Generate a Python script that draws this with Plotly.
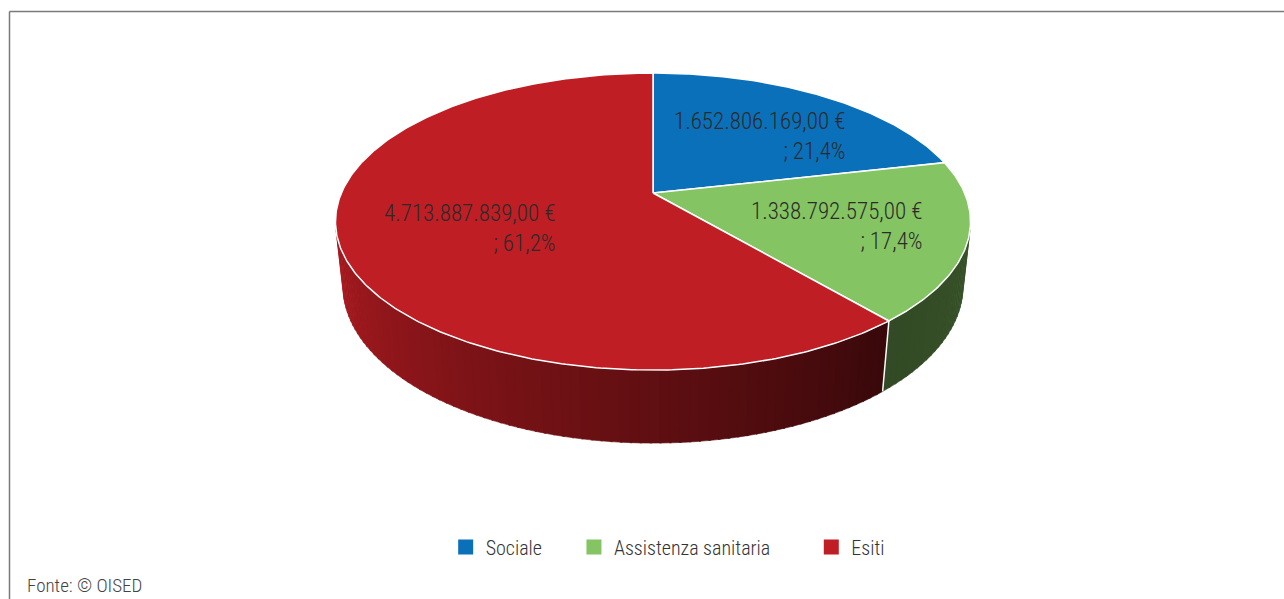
import math
import plotly.graph_objects as go

# ---------------- data ----------------
categories = ["Sociale", "Assistenza sanitaria", "Esiti"]
values = [1652806169.00, 1338792575.00, 4713887839.00]
colors = ["#0A70BA", "#85C462", "#BE1E24"]
side_shade = [(0.40, 0.40), (0.38, 0.42), (0.90, 0.30)]  # (left, right) brightness of side wall
source_text = "Fonte: © OISED"

FONT = "Roboto Condensed, Liberation Sans Narrow, Arial Narrow, sans-serif"
PADS = ["\u00a0" * 6, "\u00a0" * 8, ""]

W, H = 1284, 599
# ---------------- 3D pie projection model ----------------
CX, CY = 653.0, 193.0        # projected pie centre (pixels)
S = 311.6                    # radius scale (pixels)
ELEV = math.asin(0.459)      # view elevation
SIN_E, COS_E = math.sin(ELEV), math.cos(ELEV)
DIST = 4.62                  # camera distance (radius units)
DEPTH = 0.234                # pie thickness (radius units)


def proj(theta_deg, r=1.0, z=0.0):
    t = math.radians(theta_deg)
    x, y = r * math.cos(t), r * math.sin(t)
    X = x
    Y = y * SIN_E + z * COS_E
    Zc = -y * COS_E + z * SIN_E
    s = DIST / (DIST - Zc)
    return CX + S * X * s, CY - S * Y * s


def arc(a0, a1, r=1.0, z=0.0, n=None):
    if n is None:
        n = max(4, int(abs(a1 - a0) * 1.5))
    pts = [proj(a0 + (a1 - a0) * i / n, r, z) for i in range(n + 1)]
    return [p[0] for p in pts], [p[1] for p in pts]


def shade(hexcol, f):
    h = hexcol.lstrip("#")
    r, g, b = (int(h[i:i + 2], 16) for i in (0, 2, 4))
    return "rgb(%d,%d,%d)" % (min(255, r * f), min(255, g * f), min(255, b * f))


total = sum(values)
fracs = [v / total for v in values]
starts, ends = [], []
cum = 0.0
for f in fracs:
    starts.append(90 - 360 * cum)
    cum += f
    ends.append(90 - 360 * cum)

# visible side-wall range (front)
lim = math.degrees(math.asin(1.0 / (DIST * COS_E)))
VIS_L, VIS_R = -180 + lim, -lim

fig = go.Figure()

# ---- side walls (gradient strips) ----
seams = []
for i in range(len(values)):
    a_hi, a_lo = starts[i], ends[i]
    lo, hi = max(a_lo, VIS_L), min(a_hi, VIS_R)
    if hi <= lo:
        continue
    if a_lo > VIS_L:
        seams.append(a_lo)
    nstrip = max(6, int((hi - lo) / 1.5))
    fl, fr = side_shade[i]
    for k in range(nstrip):
        b0 = lo + (hi - lo) * k / nstrip
        b1 = lo + (hi - lo) * (k + 1) / nstrip + (0.3 if k < nstrip - 1 else 0)
        t = (k + 0.5) / nstrip
        fac = fl + (fr - fl) * t
        col = shade(colors[i], fac)
        xt, yt = arc(b0, b1, 1.0, 0.0, 3)
        xb, yb = arc(b1, b0, 1.0, -DEPTH, 3)
        fig.add_trace(go.Scatter(x=xt + xb + [xt[0]], y=yt + yb + [yt[0]], mode="lines",
                                 fill="toself", fillcolor=col, line=dict(color=col, width=0.6),
                                 hoverinfo="skip", showlegend=False))

for a in seams:
    x0, y0 = proj(a, 1.0, 0.0)
    x1, y1 = proj(a, 1.0, -DEPTH)
    fig.add_trace(go.Scatter(x=[x0, x1], y=[y0, y1], mode="lines",
                             line=dict(color="white", width=1.5),
                             hoverinfo="skip", showlegend=False))

# ---- top faces ----
for i in range(len(values)):
    xa, ya = arc(starts[i], ends[i])
    xs = [CX] + xa + [CX]
    ys = [CY] + ya + [CY]
    fig.add_trace(go.Scatter(x=xs, y=ys, mode="lines", fill="toself",
                             fillcolor=colors[i], line=dict(color="white", width=1.5),
                             hoverinfo="skip", showlegend=False))

# ---- data labels ----
def fmt_it(v):
    s = f"{v:,.2f}"
    return s.replace(",", "X").replace(".", ",").replace("X", ".")

for i in range(len(values)):
    mid = (starts[i] + ends[i]) / 2
    lx, ly = proj(mid, 0.6, 0.0)
    pct = f"{fracs[i] * 100:.1f}".replace(".", ",")
    fig.add_annotation(x=lx, y=ly, xref="x", yref="y", yshift=-5,
                       text=f"{fmt_it(values[i])} €<br>; {pct}%",
                       showarrow=False, align="right", xanchor="center", yanchor="middle",
                       font=dict(family=FONT, size=23, color="#2b2b2b", weight=300))

# ---- legend entries ----
for i in range(len(values)):
    fig.add_trace(go.Scatter(x=[None], y=[None], mode="markers", name=categories[i] + PADS[i],
                             marker=dict(symbol="square", size=15, color=colors[i]),
                             hoverinfo="skip"))

fig.add_annotation(x=25, y=585, xref="x", yref="y", text=source_text, showarrow=False,
                   xanchor="left", yanchor="middle",
                   font=dict(family=FONT, size=19, color="#444444", weight=300))

# border (top and left)
fig.add_shape(type="line", xref="x", yref="y", x0=9.5, y0=H + 5, x1=9.5, y1=11.5,
              line=dict(color="#7a7a7a", width=1.5))
fig.add_shape(type="line", xref="x", yref="y", x0=9.5, y0=11.5, x1=W + 5, y1=11.5,
              line=dict(color="#7a7a7a", width=1.5))

fig.update_layout(
    width=W, height=H, margin=dict(l=0, r=0, t=0, b=0),
    paper_bgcolor="white", plot_bgcolor="white",
    xaxis=dict(range=[0, W], visible=False, fixedrange=True),
    yaxis=dict(range=[H, 0], visible=False, fixedrange=True),
    showlegend=True,
    legend=dict(orientation="h", x=0.52, xanchor="center", y=1 - 547 / H, yanchor="middle",
                font=dict(family=FONT, size=20, color="#333333", weight=300),
                itemwidth=30, tracegroupgap=0),
    font=dict(family=FONT),
)

fig.write_html("out.html")
